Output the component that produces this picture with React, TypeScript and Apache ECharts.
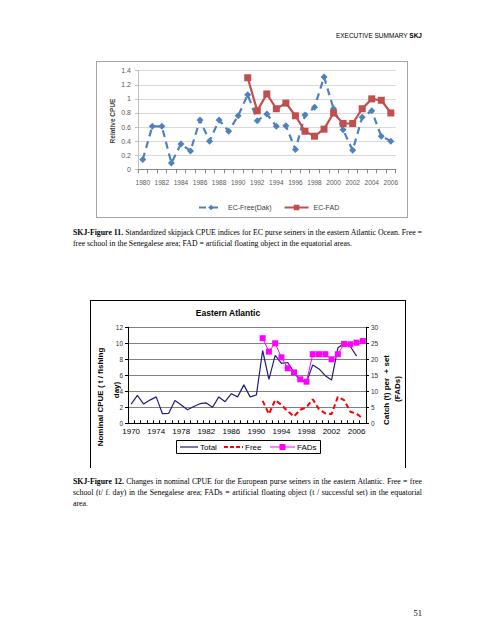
import React, { useEffect, useRef } from "react";
import * as echarts from "echarts";

// ---------- Figure 11 data ----------
const years1 = ["1980","1981","1982","1983","1984","1985","1986","1987","1988","1989","1990","1991","1992","1993","1994","1995","1996","1997","1998","1999","2000","2001","2002","2003","2004","2005","2006"];
const freeDak = [0.14,0.61,0.61,0.09,0.36,0.26,0.70,0.40,0.70,0.54,0.76,1.06,0.69,0.785,0.61,0.62,0.28,0.77,0.88,1.31,0.86,0.56,0.27,0.74,0.83,0.47,0.40];
const ecFad = [null,null,null,null,null,null,null,null,null,null,null,1.30,0.83,1.07,0.86,0.94,0.76,0.54,0.47,0.57,0.80,0.65,0.65,0.86,1.00,0.98,0.80];

// ---------- Figure 12 data ----------
const years2 = ["1970","1971","1972","1973","1974","1975","1976","1977","1978","1979","1980","1981","1982","1983","1984","1985","1986","1987","1988","1989","1990","1991","1992","1993","1994","1995","1996","1997","1998","1999","2000","2001","2002","2003","2004","2005","2006","2007"];
const total = [2.4,3.5,2.4,2.9,3.3,1.2,1.25,2.85,2.3,1.7,2.1,2.45,2.55,2.0,3.3,2.7,3.7,3.3,4.8,3.3,3.55,9.1,5.5,8.5,7.5,7.6,6.4,5.3,5.15,7.3,6.8,5.95,5.4,9.4,10.0,9.6,8.4,null];
const freeSchool = [null,null,null,null,null,null,null,null,null,null,null,null,null,null,null,null,null,null,null,null,null,2.8,1.15,2.9,2.3,1.5,0.85,1.7,2.0,3.0,1.75,1.25,1.15,3.3,2.9,1.45,1.2,0.6];
const fads = [null,null,null,null,null,null,null,null,null,null,null,null,null,null,null,null,null,null,null,null,null,26.6,22.4,25.0,20.6,17.2,15.9,13.75,13.0,21.6,21.6,21.6,20.0,21.6,24.8,24.7,25.2,25.7];

const SANS = '"Liberation Sans", Arial, sans-serif';
const SERIF = '"Liberation Serif", "Times New Roman", serif';

const NAVY = "#1f1f78";
const RED = "#ff0000";
const MAGENTA = "#ff00ff";

const txt = (x: number, y: number, text: string, extra: any = {}) => ({
  type: "text",
  x,
  y,
  silent: true,
  style: { text, fontSize: 8, fontFamily: SANS, fill: "#000", align: "left", verticalAlign: "middle", ...extra },
});

const option: any = {
  animation: false,
  textStyle: { fontFamily: SANS },
  grid: [
    { left: 138, top: 70.7, width: 257.6, height: 98.6, outerBoundsMode: "none" },
    { left: 128, top: 327.3, width: 238, height: 96, outerBoundsMode: "none" },
  ],
  legend: [
    {
      data: ["EC-Free(Dak)", "EC-FAD"],
      left: 193,
      top: 199,
      itemWidth: 24,
      itemHeight: 7,
      itemGap: 12,
      textStyle: { fontSize: 7, color: "#404040", fontFamily: SANS },
    },
  ],
  xAxis: [
    {
      type: "category",
      gridIndex: 0,
      data: years1,
      boundaryGap: true,
      axisLine: { lineStyle: { color: "#868686" } },
      axisTick: { show: true, interval: 0, length: 4, lineStyle: { color: "#868686" } },
      axisLabel: { interval: 1, fontSize: 6.5, color: "#595959", margin: 10 },
      splitLine: { show: false },
    },
    {
      type: "category",
      gridIndex: 1,
      data: years2,
      boundaryGap: true,
      axisLine: { lineStyle: { color: "#000" } },
      axisTick: { show: true, interval: 0, inside: true, length: 3, lineStyle: { color: "#000" } },
      axisLabel: { interval: 3, fontSize: 8, color: "#000", margin: 4 },
      splitLine: { show: false },
    },
  ],
  yAxis: [
    {
      type: "value",
      gridIndex: 0,
      min: 0,
      max: 1.4,
      interval: 0.2,
      axisLine: { show: true, lineStyle: { color: "#bfbfbf" } },
      axisTick: { show: true, length: 3, lineStyle: { color: "#bfbfbf" } },
      axisLabel: { fontSize: 7, color: "#595959", margin: 7 },
      splitLine: { lineStyle: { color: "#d9d9d9" } },
    },
    {
      type: "value",
      gridIndex: 1,
      position: "left",
      min: 0,
      max: 12,
      interval: 2,
      axisLine: { show: true, lineStyle: { color: "#000" } },
      axisTick: { show: true, length: 3, lineStyle: { color: "#000" } },
      axisLabel: { fontSize: 6.5, color: "#333", margin: 5 },
      splitLine: { lineStyle: { color: "#808080" } },
    },
    {
      type: "value",
      gridIndex: 1,
      position: "right",
      min: 0,
      max: 30,
      interval: 5,
      axisLine: { show: true, lineStyle: { color: "#000" } },
      axisTick: { show: true, length: 3, lineStyle: { color: "#000" } },
      axisLabel: { fontSize: 6.5, color: "#333", margin: 5 },
      splitLine: { show: false },
    },
  ],
  series: [
    {
      name: "EC-Free(Dak)",
      type: "line",
      xAxisIndex: 0,
      yAxisIndex: 0,
      data: freeDak,
      symbol: "diamond",
      symbolSize: 7,
      showAllSymbol: true,
      itemStyle: { color: "#4f81bd" },
      lineStyle: { color: "#4f81bd", width: 2.2, type: [7, 5] },
    },
    {
      name: "EC-FAD",
      type: "line",
      xAxisIndex: 0,
      yAxisIndex: 0,
      data: ecFad,
      symbol: "rect",
      symbolSize: 7,
      showAllSymbol: true,
      itemStyle: { color: "#c0504d" },
      lineStyle: { color: "#c0504d", width: 2.2 },
    },
    {
      name: "Total",
      type: "line",
      xAxisIndex: 1,
      yAxisIndex: 1,
      data: total,
      symbol: "none",
      itemStyle: { color: NAVY },
      lineStyle: { color: NAVY, width: 1.2 },
    },
    {
      name: "Free",
      type: "line",
      xAxisIndex: 1,
      yAxisIndex: 1,
      data: freeSchool,
      symbol: "none",
      itemStyle: { color: RED },
      lineStyle: { color: RED, width: 2, type: [5, 3] },
    },
    {
      name: "FADs",
      type: "line",
      xAxisIndex: 1,
      yAxisIndex: 2,
      data: fads,
      symbol: "rect",
      symbolSize: 6,
      showAllSymbol: true,
      itemStyle: { color: MAGENTA },
      lineStyle: { color: MAGENTA, width: 1 },
    },
  ],
  graphic: [
    {
      type: "text",
      x: 112,
      y: 121,
      rotation: Math.PI / 2,
      style: { text: "Relative CPUE", fontSize: 6.5, fontWeight: "bold", fontFamily: SANS, fill: "#404040", align: "center", verticalAlign: "middle" },
    },
    {
      type: "text",
      x: 228,
      y: 313,
      style: { text: "Eastern Atlantic", fontSize: 8.5, fontWeight: "bold", fontFamily: SANS, fill: "#000", align: "center", verticalAlign: "middle" },
    },
    {
      type: "text",
      x: 100,
      y: 397,
      rotation: Math.PI / 2,
      style: { text: "Nominal CPUE ( t / fishing", fontSize: 8, fontWeight: "bold", fontFamily: SANS, fill: "#000", align: "center", verticalAlign: "middle" },
    },
    {
      type: "text",
      x: 116,
      y: 390,
      rotation: Math.PI / 2,
      style: { text: "day)", fontSize: 8, fontWeight: "bold", fontFamily: SANS, fill: "#000", align: "center", verticalAlign: "middle" },
    },
    {
      type: "text",
      x: 386,
      y: 390,
      rotation: Math.PI / 2,
      style: { text: "Catch (t) per  + set", fontSize: 8, fontWeight: "bold", fontFamily: SANS, fill: "#000", align: "center", verticalAlign: "middle" },
    },
    {
      type: "text",
      x: 397,
      y: 389,
      rotation: Math.PI / 2,
      style: { text: "(FADs)", fontSize: 8, fontWeight: "bold", fontFamily: SANS, fill: "#000", align: "center", verticalAlign: "middle" },
    },
    // Figure 12 legend (boxed)
    {
      type: "rect",
      silent: true,
      shape: { x: 176.5, y: 440.5, width: 144, height: 13 },
      style: { fill: "#fff", stroke: "#000", lineWidth: 1 },
    },
    {
      type: "line",
      silent: true,
      shape: { x1: 180, y1: 447, x2: 198, y2: 447 },
      style: { stroke: NAVY, lineWidth: 1.2 },
    },
    txt(200, 447.5, "Total"),
    {
      type: "line",
      silent: true,
      shape: { x1: 224, y1: 447, x2: 243, y2: 447 },
      style: { stroke: RED, lineWidth: 2, lineDash: [4, 2] },
    },
    txt(245, 447.5, "Free"),
    {
      type: "line",
      silent: true,
      shape: { x1: 270, y1: 447, x2: 295, y2: 447 },
      style: { stroke: MAGENTA, lineWidth: 1 },
    },
    {
      type: "rect",
      silent: true,
      shape: { x: 279.5, y: 444, width: 6, height: 6 },
      style: { fill: MAGENTA },
    },
    txt(297, 447.5, "FADs"),
  ],
};

const lineStyle = (top: number, last: boolean): React.CSSProperties => ({
  position: "absolute",
  left: 73,
  top,
  width: 349,
  fontFamily: SERIF,
  fontSize: 7.8,
  lineHeight: "10px",
  color: "#000",
  whiteSpace: "nowrap",
  textAlign: last ? "left" : "justify",
  textAlignLast: last ? "left" : "justify",
});

export default function App() {
  const ref = useRef<HTMLDivElement>(null);
  useEffect(() => {
    if (!ref.current) return;
    const chart = echarts.init(ref.current, undefined, { renderer: "svg" });
    chart.setOption(option);
    return () => chart.dispose();
  }, []);
  return (
    <div style={{ position: "absolute", left: 0, top: 0, width: 495, height: 640, background: "#fff", overflow: "hidden" }}>
      <div style={{ position: "absolute", left: 96, top: 61, width: 310, height: 155, border: "1px solid #a6a6a6" }} />
      <div style={{ position: "absolute", left: 90, top: 300, width: 314, height: 167, borderTop: "1px solid #000", borderLeft: "1px solid #000", borderRight: "1px solid #000" }} />
      <div ref={ref} style={{ position: "absolute", left: 0, top: 0, width: 495, height: 640 }} />
      <div style={{ position: "absolute", left: 0, top: 32, width: 422, textAlign: "right", fontFamily: SANS, fontSize: 6.5, color: "#000" }}>
        EXECUTIVE SUMMARY <b>SKJ</b>
      </div>
      <div style={lineStyle(228, false)}>
        <b>SKJ-Figure 11.</b> Standardized skipjack CPUE indices for EC purse seiners in the eastern Atlantic Ocean. Free =
      </div>
      <div style={lineStyle(239, true)}>
        free school in the Senegalese area; FAD = artificial floating object in the equatorial areas.
      </div>
      <div style={lineStyle(477, false)}>
        <b>SKJ-Figure 12.</b> Changes in nominal CPUE for the European purse seiners in the eastern Atlantic. Free = free
      </div>
      <div style={lineStyle(488, false)}>
        school (t/ f. day) in the Senegalese area; FADs = artificial floating object (t / successful set) in the equatorial
      </div>
      <div style={lineStyle(499, true)}>area.</div>
      <div style={{ position: "absolute", left: 0, top: 608, width: 422, textAlign: "right", fontFamily: SERIF, fontSize: 8.5, color: "#000" }}>
        51
      </div>
    </div>
  );
}
